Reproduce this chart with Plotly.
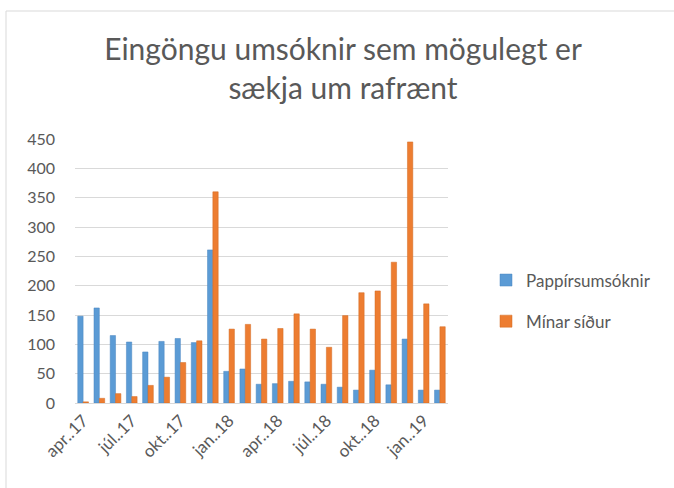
import plotly.graph_objects as go

months = ["apr..17", "maí.17", "jún..17", "júl..17", "ágú..17", "sep..17", "okt..17", "nóv..17", "des..17",
          "jan..18", "feb..18", "mar..18", "apr..18", "maí.18", "jún..18", "júl..18", "ágú..18", "sep..18",
          "okt..18", "nóv..18", "des..18", "jan..19", "feb..19"]
pappir = [148, 162, 115, 104, 87, 105, 110, 103, 261, 54, 58, 32, 33, 37, 36, 32, 27, 22, 56, 31, 109, 22, 22]
minar = [2, 8, 16, 11, 30, 44, 69, 106, 360, 126, 134, 109, 127, 152, 126, 95, 149, 188, 191, 240, 445, 169, 130]
shown_ticks = months[::3]

BLUE = "#5B9BD5"
ORANGE = "#ED7D31"
GREY = "#595959"
FONT = "Lato"

W, H = 674, 488
L, R, T, B = 75, 448, 139, 403


def px(x):
    return (x - L) / (R - L)


def py(y):
    return (B - y) / (B - T)


fig = go.Figure()
fig.add_trace(go.Bar(x=months, y=pappir, name="Pappírsumsóknir", marker_color=BLUE,
                     marker_line=dict(color="#4A86C0", width=0.5), legendgroup="a"))
fig.add_trace(go.Bar(x=months, y=minar, name="Mínar síður", marker_color=ORANGE,
                     marker_line=dict(color="#D36A22", width=0.5), legendgroup="b"))

fig.update_layout(
    width=W, height=H,
    margin=dict(l=L, r=W - R, t=T, b=H - B, autoexpand=False),
    paper_bgcolor="white", plot_bgcolor="white",
    font=dict(family=FONT, color=GREY, size=16),
    title=dict(text="Eingöngu umsóknir sem mögulegt er<br>sækja um rafrænt",
               x=343 / W, xanchor="center", y=1 - 60 / H, yanchor="top",
               font=dict(size=30, color=GREY, family=FONT)),
    barmode="group", bargap=0.34, bargroupgap=0.0,
    showlegend=True,
    legend=dict(x=px(486), y=py(301), xanchor="left", yanchor="middle",
                font=dict(size=17, color=GREY, family=FONT),
                tracegroupgap=16, traceorder="grouped"),
    xaxis=dict(type="category", tickvals=shown_ticks, ticktext=shown_ticks, tickangle=-45,
               showgrid=False, showline=True, linecolor="#D9D9D9", linewidth=1,
               ticks="", tickfont=dict(size=17, color=GREY, family=FONT), automargin=False),
    yaxis=dict(range=[0, 450], dtick=50, showgrid=True, gridcolor="#D9D9D9", gridwidth=1,
               zeroline=False, showline=False, ticks="", automargin=False,
               ticklabelstandoff=19,
               tickfont=dict(size=16, color=GREY, family=FONT)),
    shapes=[dict(type="rect", xref="paper", yref="paper",
                 x0=px(6), x1=px(700), y0=py(520), y1=py(11),
                 line=dict(color="#D9D9D9", width=1), fillcolor="rgba(0,0,0,0)", layer="below")],
)

fig.write_html("out.html", config={"displayModeBar": False},
               post_script="document.body.style.margin='0px';")
